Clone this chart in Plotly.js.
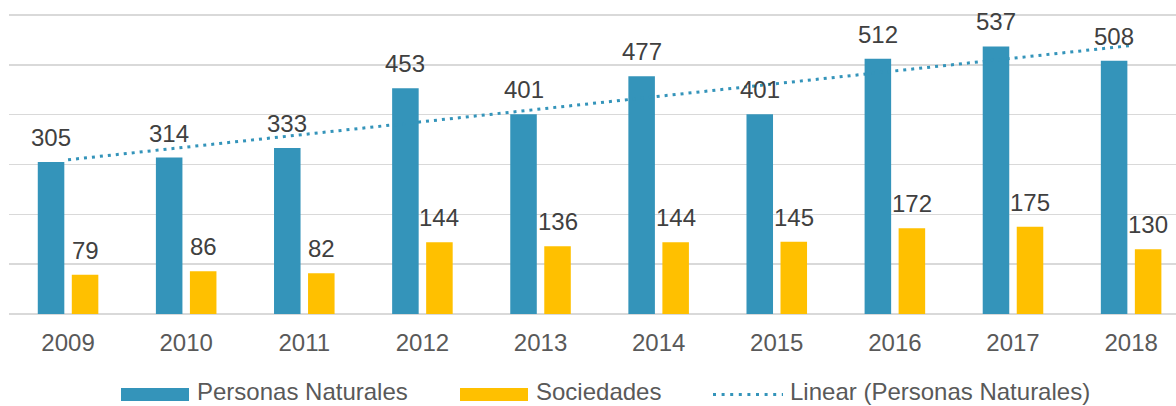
<!DOCTYPE html>
<html>
<head>
<meta charset="utf-8">
<script src="https://cdn.plot.ly/plotly-3.0.1.min.js"></script>
<style>
  html, body { margin: 0; padding: 0; background: #fff; }
  #chart { width: 1176px; height: 406px; }
</style>
</head>
<body>
<div id="chart"></div>
<script>
const years = ["2009", "2010", "2011", "2012", "2013", "2014", "2015", "2016", "2017", "2018"];
const personasNaturales = [305, 314, 333, 453, 401, 477, 401, 512, 537, 508];
const sociedades = [79, 86, 82, 144, 136, 144, 145, 172, 175, 130];

const BLUE = "#3494BA";
const YELLOW = "#FFC000";
const FONT = "Liberation Sans, Arial, sans-serif";
const FS = 24;

// least-squares trend of Personas Naturales, like the spreadsheet's "Linear" trendline
function linearFit(vals) {
  const n = vals.length;
  const mx = (n - 1) / 2;
  const my = vals.reduce((a, b) => a + b, 0) / n;
  let sxy = 0, sxx = 0;
  vals.forEach((v, i) => { sxy += (i - mx) * (v - my); sxx += (i - mx) * (i - mx); });
  const slope = sxy / sxx;
  return vals.map((_, i) => my + slope * (i - mx));
}
const trend = linearFit(personasNaturales);

const W = 1176, H = 406;
const margin = { l: 9, r: 0, t: 13, b: 92 };
const plotW = W - margin.l - margin.r;
const plotH = H - margin.t - margin.b;
const px = x => (x - margin.l) / plotW;
const py = y => (H - margin.b - y) / plotH;

const traces = [
  {
    type: "bar", name: "Personas Naturales", x: years, y: personasNaturales,
    marker: { color: BLUE }, showlegend: false, hoverinfo: "x+y"
  },
  {
    type: "bar", name: "Sociedades", x: years, y: sociedades,
    marker: { color: YELLOW }, showlegend: false, hoverinfo: "x+y"
  },
  {
    type: "scatter", mode: "lines", name: "Linear (Personas Naturales)", x: years, y: trend,
    line: { color: BLUE, width: 3, dash: "3px,5px" }, showlegend: false, hoverinfo: "skip"
  }
];

const annotations = [];
years.forEach((yr, i) => {
  annotations.push({ xref: "x", yref: "y", x: i, y: personasNaturales[i], text: String(personasNaturales[i]),
    xshift: -17, yshift: 9, yanchor: "bottom", showarrow: false,
    font: { family: FONT, size: FS, color: "#404040" } });
  annotations.push({ xref: "x", yref: "y", x: i, y: sociedades[i], text: String(sociedades[i]),
    xshift: 17, yshift: 9, yanchor: "bottom", showarrow: false,
    font: { family: FONT, size: FS, color: "#404040" } });
});

// custom legend with wide swatches
const legendItems = [
  { label: "Personas Naturales", kind: "bar", color: BLUE, x0: 121, x1: 189, tx: 196 },
  { label: "Sociedades", kind: "bar", color: YELLOW, x0: 460, x1: 528, tx: 535 },
  { label: "Linear (Personas Naturales)", kind: "line", color: BLUE, x0: 713, x1: 783, tx: 789 }
];
const shapes = [];
const legY = 394.5;
legendItems.forEach(it => {
  if (it.kind === "bar") {
    shapes.push({ type: "rect", xref: "paper", yref: "paper", x0: px(it.x0), x1: px(it.x1),
      y0: py(legY + 6.5), y1: py(legY - 6.5), fillcolor: it.color, line: { width: 0 } });
  } else {
    shapes.push({ type: "line", xref: "paper", yref: "paper", x0: px(it.x0), x1: px(it.x1),
      y0: py(legY), y1: py(legY), line: { color: it.color, width: 3, dash: "3px,5.6px" } });
  }
  annotations.push({ xref: "paper", yref: "paper", x: px(it.tx), y: py(H), xanchor: "left", yanchor: "bottom",
    borderpad: 0, text: it.label, showarrow: false, font: { family: FONT, size: FS, color: "#595959" } });
});

const layout = {
  width: W, height: H,
  margin: margin,
  paper_bgcolor: "#fff", plot_bgcolor: "#fff",
  showlegend: false,
  barmode: "group", bargap: 0.424, bargroupgap: 0.22,
  font: { family: FONT, size: FS, color: "#595959" },
  xaxis: {
    type: "category", range: [-0.5, 9.38], showgrid: false, zeroline: false, showline: false,
    ticks: "", ticklabelstandoff: 12, tickfont: { family: FONT, size: FS, color: "#595959" }, fixedrange: true
  },
  yaxis: {
    range: [0, 604], dtick: 100, tick0: 0, showticklabels: false, ticks: "",
    showgrid: true, gridcolor: "#D9D9D9", gridwidth: 1.5,
    zeroline: true, zerolinecolor: "#D9D9D9", zerolinewidth: 1.5, showline: false, fixedrange: true
  },
  annotations: annotations,
  shapes: shapes
};

Plotly.newPlot("chart", traces, layout, { displayModeBar: false, staticPlot: true });
</script>
</body>
</html>
